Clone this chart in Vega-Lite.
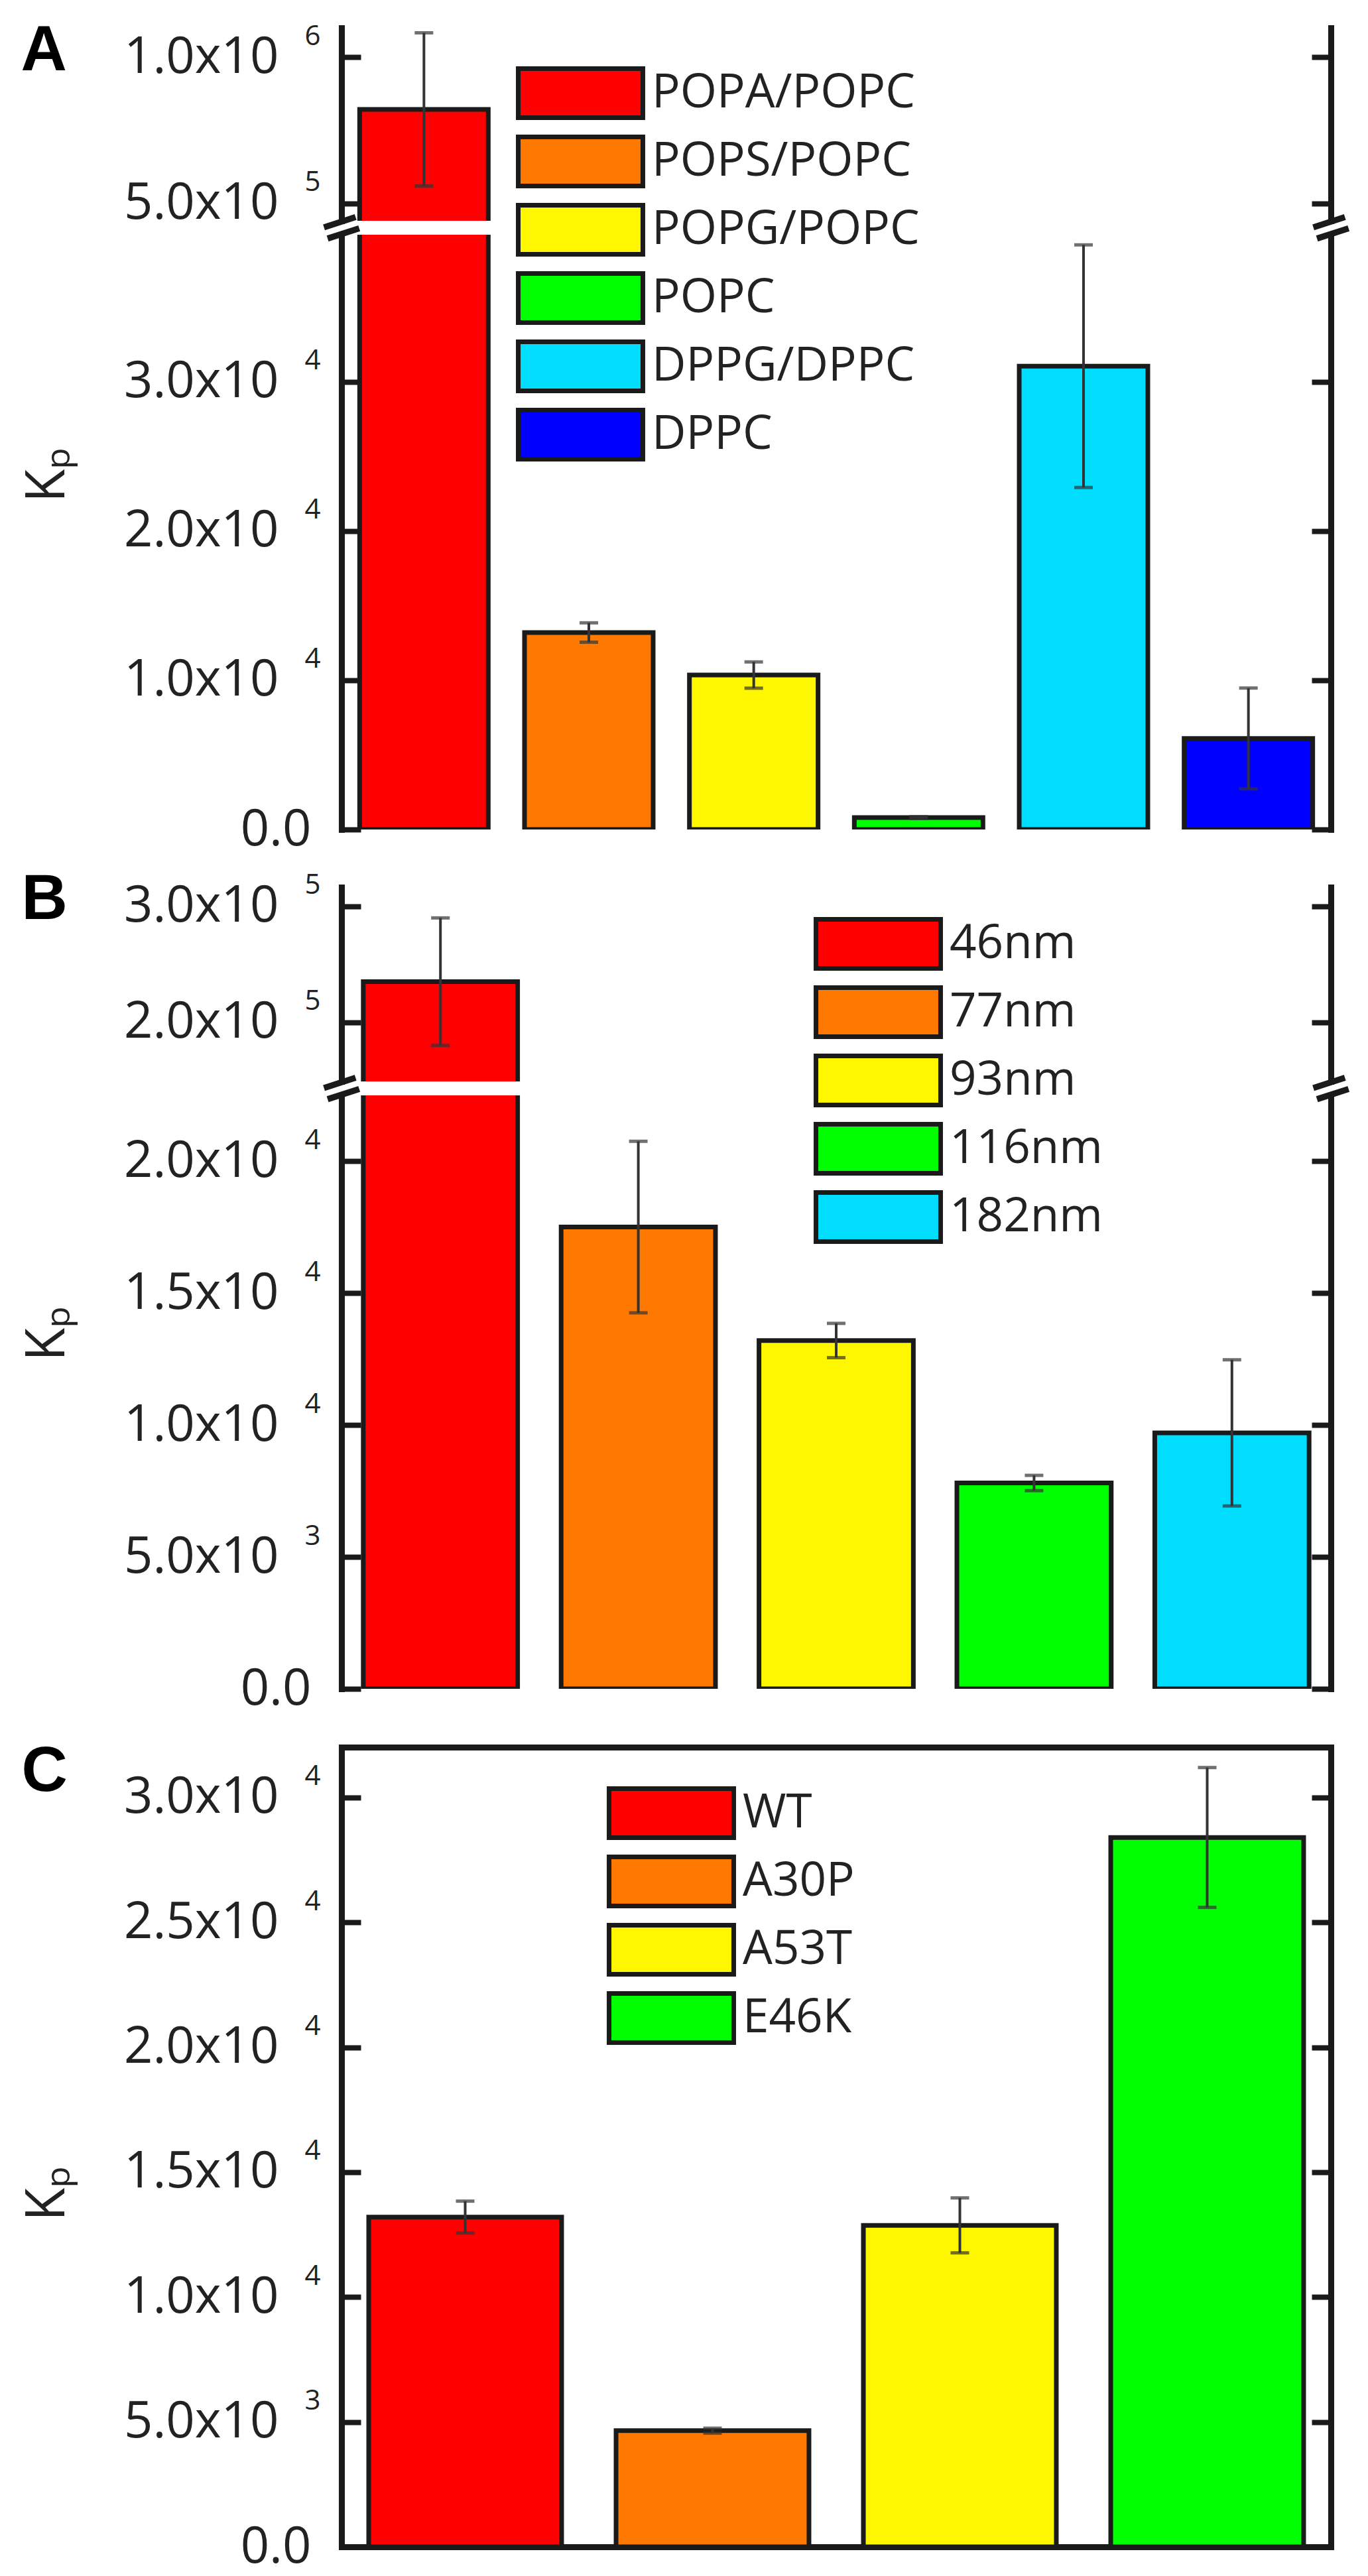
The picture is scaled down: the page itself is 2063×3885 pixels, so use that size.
{
  "$schema": "https://vega.github.io/schema/vega-lite/v6.json",
  "autosize": {"type": "none"},
  "padding": {"left": 515, "top": 42, "right": 1548, "bottom": 3843},
  "background": "white",
  "datasets": {
    "lipids": [
      {"cat": "POPA/POPC", "Kp": 821000, "err": 262000},
      {"cat": "POPS/POPC", "Kp": 13200, "err": 650},
      {"cat": "POPG/POPC", "Kp": 10350, "err": 880},
      {"cat": "POPC", "Kp": 800, "err": 60},
      {"cat": "DPPG/DPPC", "Kp": 31050, "err": 8130},
      {"cat": "DPPC", "Kp": 6100, "err": 3380}
    ],
    "sizes": [
      {"cat": "46nm", "Kp": 235000, "err": 55000},
      {"cat": "77nm", "Kp": 17500, "err": 3250},
      {"cat": "93nm", "Kp": 13200, "err": 650},
      {"cat": "116nm", "Kp": 7800, "err": 290},
      {"cat": "182nm", "Kp": 9700, "err": 2770}
    ],
    "mutants": [
      {"cat": "WT", "Kp": 13200, "err": 640},
      {"cat": "A30P", "Kp": 4650, "err": 100},
      {"cat": "A53T", "Kp": 12870, "err": 1100},
      {"cat": "E46K", "Kp": 28400, "err": 2800}
    ]
  },
  "vconcat": [
    {
      "data": {"name": "lipids"},
      "width": 1492,
      "height": 291,
      "resolve": {"axis": {"y": "independent"}},
      "layer": [
        {
          "mark": {"type": "bar", "stroke": "#1a1a1a", "strokeWidth": 7, "clip": true},
          "encoding": {
            "x": {"field": "cat", "type": "nominal", "sort": null,
                  "scale": {"domain": ["POPA/POPC", "POPS/POPC", "POPG/POPC", "POPC", "DPPG/DPPC", "DPPC"], "paddingInner": 0.22, "paddingOuter": 0.11},
                  "axis": {"orient": "top", "domain": true, "ticks": false, "labels": false, "title": null}},
            "y": {"field": "Kp", "type": "quantitative",
                  "scale": {"domain": [440000, 1100000], "nice": false},
                  "axis": {"orient": "left", "values": [500000, 1000000], "labelExpr": "datum.value == 0 ? '0.0' : format(datum.value / pow(10, floor(log(datum.value) / LN10 + 1e-9)), '.1f') + 'x10'", "labelFontSize": 76,
                           "labelPadding": {"condition": {"test": "datum.value == 0", "value": 75}, "value": 124}, "title": null}},
            "y2": {"datum": 0},
            "color": {"field": "cat", "type": "nominal",
                      "scale": {"domain": ["POPA/POPC", "POPS/POPC", "POPG/POPC", "POPC", "DPPG/DPPC", "DPPC"], "range": ["#FF0000", "#FF7800", "#FFF700", "#00FF00", "#00DDFF", "#0000FF"]},
                      "legend": {"orient": "none", "legendX": 263, "legendY": 58}}
          }
        },
        {
          "transform": [{"filter": "datum.Kp > 100000"}],
          "mark": {"type": "errorbar", "color": "#333333", "ticks": {"size": 28, "thickness": 5, "color": "#333333"}, "rule": {"strokeWidth": 4, "color": "#333333"}},
          "encoding": {
            "x": {"field": "cat", "type": "nominal", "sort": null, "axis": null},
            "y": {"field": "Kp", "type": "quantitative", "scale": {"domain": [440000, 1100000], "nice": false}, "axis": null},
            "yError": {"field": "err"}
          }
        },
        {
          "mark": {"type": "point", "opacity": 0},
          "encoding": {
            "y": {"field": "Kp", "type": "quantitative", "scale": {"domain": [440000, 1100000], "nice": false},
                  "axis": {"orient": "left", "values": [500000, 1000000], "labelExpr": "datum.value == 0 ? '' : '' + floor(log(datum.value) / LN10 + 1e-9)", "labelFontSize": 42, "labelPadding": 32, "labelOffset": -32, "ticks": false, "tickSize": 0, "domain": false,
                           "title": "A", "titleX": -484, "titleY": 63, "titleAngle": 0, "titleAlign": "left", "titleBaseline": "alphabetic", "titleFont": "Liberation Sans", "titleFontWeight": "bold", "titleFontSize": 96, "titleColor": "#000000"}}
          }
        },
        {
          "mark": {"type": "point", "opacity": 0},
          "encoding": {
            "y": {"field": "Kp", "type": "quantitative", "scale": {"domain": [440000, 1100000], "nice": false},
                  "axis": {"orient": "right", "values": [500000, 1000000], "labels": false, "title": null}}
          }
        }
      ]
    },
    {
      "data": {"name": "lipids"},
      "width": 1492,
      "height": 897,
      "resolve": {"axis": {"y": "independent"}},
      "layer": [
        {
          "mark": {"type": "bar", "stroke": "#1a1a1a", "strokeWidth": 7, "clip": true},
          "encoding": {
            "x": {"field": "cat", "type": "nominal", "sort": null,
                  "scale": {"domain": ["POPA/POPC", "POPS/POPC", "POPG/POPC", "POPC", "DPPG/DPPC", "DPPC"], "paddingInner": 0.22, "paddingOuter": 0.11},
                  "axis": {"orient": "bottom", "domain": true, "ticks": false, "labels": false, "title": null}},
            "y": {"field": "Kp", "type": "quantitative",
                  "scale": {"domain": [0, 39860], "nice": false},
                  "axis": {"orient": "left", "values": [0, 10000, 20000, 30000], "labelExpr": "datum.value == 0 ? '0.0' : format(datum.value / pow(10, floor(log(datum.value) / LN10 + 1e-9)), '.1f') + 'x10'", "labelFontSize": 76,
                           "labelPadding": {"condition": {"test": "datum.value == 0", "value": 75}, "value": 124},
                           "title": "K\u209a", "titleX": -419, "titleY": 362, "titleAlign": "center", "titleBaseline": "alphabetic", "titleFontSize": 82}},
            "y2": {"datum": 0},
            "color": {"field": "cat", "type": "nominal",
                      "scale": {"domain": ["POPA/POPC", "POPS/POPC", "POPG/POPC", "POPC", "DPPG/DPPC", "DPPC"], "range": ["#FF0000", "#FF7800", "#FFF700", "#00FF00", "#00DDFF", "#0000FF"]},
                      "legend": null}
          }
        },
        {
          "transform": [{"filter": "datum.Kp < 100000"}],
          "mark": {"type": "errorbar", "color": "#333333", "ticks": {"size": 28, "thickness": 5, "color": "#333333"}, "rule": {"strokeWidth": 4, "color": "#333333"}},
          "encoding": {
            "x": {"field": "cat", "type": "nominal", "sort": null, "axis": null},
            "y": {"field": "Kp", "type": "quantitative", "scale": {"domain": [0, 39860], "nice": false}, "axis": null},
            "yError": {"field": "err"}
          }
        },
        {
          "mark": {"type": "point", "opacity": 0},
          "encoding": {
            "y": {"field": "Kp", "type": "quantitative", "scale": {"domain": [0, 39860], "nice": false},
                  "axis": {"orient": "left", "values": [0, 10000, 20000, 30000], "labelExpr": "datum.value == 0 ? '' : '' + floor(log(datum.value) / LN10 + 1e-9)", "labelFontSize": 42, "labelPadding": 32, "labelOffset": -32, "ticks": false, "tickSize": 0, "domain": false, "title": null}}
          }
        },
        {
          "mark": {"type": "point", "opacity": 0},
          "encoding": {
            "y": {"field": "Kp", "type": "quantitative", "scale": {"domain": [0, 39860], "nice": false},
                  "axis": {"orient": "right", "values": [0, 10000, 20000, 30000], "labels": false, "title": null}}
          }
        },
        {
          "mark": {"type": "point", "opacity": 0},
          "encoding": {
            "y": {"field": "Kp", "type": "quantitative", "scale": {"domain": [0, 39860], "nice": false},
                  "axis": {"orient": "left", "values": [39860], "labelExpr": "'='", "ticks": false, "tickSize": 0, "domain": false, "labelAngle": -18, "labelAlign": "center", "labelBaseline": "middle", "labelPadding": 0, "labelOffset": -10, "labelFont": "DejaVu Sans", "labelFontWeight": "bold", "labelFontSize": 80, "labelColor": "#1a1a1a", "title": null}}
          }
        },
        {
          "mark": {"type": "point", "opacity": 0},
          "encoding": {
            "y": {"field": "Kp", "type": "quantitative", "scale": {"domain": [0, 39860], "nice": false},
                  "axis": {"orient": "right", "values": [39860], "labelExpr": "'='", "ticks": false, "tickSize": 0, "domain": false, "labelAngle": -18, "labelAlign": "center", "labelBaseline": "middle", "labelPadding": 0, "labelOffset": -10, "labelFont": "DejaVu Sans", "labelFontWeight": "bold", "labelFontSize": 80, "labelColor": "#1a1a1a", "title": null}}
          }
        }
      ]
    },
    {
      "data": {"name": "sizes"},
      "width": 1492,
      "height": 359,
      "resolve": {"axis": {"y": "independent"}},
      "layer": [
        {
          "mark": {"type": "bar", "stroke": "#1a1a1a", "strokeWidth": 7, "clip": true},
          "encoding": {
            "x": {"field": "cat", "type": "nominal", "sort": null,
                  "scale": {"domain": ["46nm", "77nm", "93nm", "116nm", "182nm"], "paddingInner": 0.22, "paddingOuter": 0.11},
                  "axis": {"orient": "top", "offset": -66, "domain": true, "ticks": false, "labels": false, "title": null}},
            "y": {"field": "Kp", "type": "quantitative",
                  "scale": {"domain": [149000, 316500], "range": [359, 66], "nice": false},
                  "axis": {"orient": "left", "values": [200000, 300000], "labelExpr": "datum.value == 0 ? '0.0' : format(datum.value / pow(10, floor(log(datum.value) / LN10 + 1e-9)), '.1f') + 'x10'", "labelFontSize": 76,
                           "labelPadding": {"condition": {"test": "datum.value == 0", "value": 75}, "value": 124}, "title": null}},
            "y2": {"datum": 0},
            "color": {"field": "cat", "type": "nominal",
                      "scale": {"domain": ["46nm", "77nm", "93nm", "116nm", "182nm"], "range": ["#FF0000", "#FF7800", "#FFF700", "#00FF00", "#00DDFF"]},
                      "legend": {"orient": "none", "legendX": 712, "legendY": 111}}
          }
        },
        {
          "transform": [{"filter": "datum.Kp > 100000"}],
          "mark": {"type": "errorbar", "color": "#333333", "ticks": {"size": 28, "thickness": 5, "color": "#333333"}, "rule": {"strokeWidth": 4, "color": "#333333"}},
          "encoding": {
            "x": {"field": "cat", "type": "nominal", "sort": null, "axis": null},
            "y": {"field": "Kp", "type": "quantitative", "scale": {"domain": [149000, 316500], "range": [359, 66], "nice": false}, "axis": null},
            "yError": {"field": "err"}
          }
        },
        {
          "mark": {"type": "point", "opacity": 0},
          "encoding": {
            "y": {"field": "Kp", "type": "quantitative", "scale": {"domain": [149000, 316500], "range": [359, 66], "nice": false},
                  "axis": {"orient": "left", "values": [200000, 300000], "labelExpr": "datum.value == 0 ? '' : '' + floor(log(datum.value) / LN10 + 1e-9)", "labelFontSize": 42, "labelPadding": 32, "labelOffset": -32, "ticks": false, "tickSize": 0, "domain": false,
                           "title": "B", "titleX": -483, "titleY": 113, "titleAngle": 0, "titleAlign": "left", "titleBaseline": "alphabetic", "titleFont": "Liberation Sans", "titleFontWeight": "bold", "titleFontSize": 96, "titleColor": "#000000"}}
          }
        },
        {
          "mark": {"type": "point", "opacity": 0},
          "encoding": {
            "y": {"field": "Kp", "type": "quantitative", "scale": {"domain": [149000, 316500], "range": [359, 66], "nice": false},
                  "axis": {"orient": "right", "values": [200000, 300000], "labels": false, "title": null}}
          }
        }
      ]
    },
    {
      "data": {"name": "sizes"},
      "width": 1492,
      "height": 895,
      "resolve": {"axis": {"y": "independent"}},
      "layer": [
        {
          "mark": {"type": "bar", "stroke": "#1a1a1a", "strokeWidth": 7, "clip": true},
          "encoding": {
            "x": {"field": "cat", "type": "nominal", "sort": null,
                  "scale": {"domain": ["46nm", "77nm", "93nm", "116nm", "182nm"], "paddingInner": 0.22, "paddingOuter": 0.11},
                  "axis": {"orient": "bottom", "domain": true, "ticks": false, "labels": false, "title": null}},
            "y": {"field": "Kp", "type": "quantitative",
                  "scale": {"domain": [0, 22490], "nice": false},
                  "axis": {"orient": "left", "values": [0, 5000, 10000, 15000, 20000], "labelExpr": "datum.value == 0 ? '0.0' : format(datum.value / pow(10, floor(log(datum.value) / LN10 + 1e-9)), '.1f') + 'x10'", "labelFontSize": 76,
                           "labelPadding": {"condition": {"test": "datum.value == 0", "value": 75}, "value": 124},
                           "title": "K\u209a", "titleX": -419, "titleY": 359, "titleAlign": "center", "titleBaseline": "alphabetic", "titleFontSize": 82}},
            "y2": {"datum": 0},
            "color": {"field": "cat", "type": "nominal",
                      "scale": {"domain": ["46nm", "77nm", "93nm", "116nm", "182nm"], "range": ["#FF0000", "#FF7800", "#FFF700", "#00FF00", "#00DDFF"]},
                      "legend": null}
          }
        },
        {
          "transform": [{"filter": "datum.Kp < 100000"}],
          "mark": {"type": "errorbar", "color": "#333333", "ticks": {"size": 28, "thickness": 5, "color": "#333333"}, "rule": {"strokeWidth": 4, "color": "#333333"}},
          "encoding": {
            "x": {"field": "cat", "type": "nominal", "sort": null, "axis": null},
            "y": {"field": "Kp", "type": "quantitative", "scale": {"domain": [0, 22490], "nice": false}, "axis": null},
            "yError": {"field": "err"}
          }
        },
        {
          "mark": {"type": "point", "opacity": 0},
          "encoding": {
            "y": {"field": "Kp", "type": "quantitative", "scale": {"domain": [0, 22490], "nice": false},
                  "axis": {"orient": "left", "values": [0, 5000, 10000, 15000, 20000], "labelExpr": "datum.value == 0 ? '' : '' + floor(log(datum.value) / LN10 + 1e-9)", "labelFontSize": 42, "labelPadding": 32, "labelOffset": -32, "ticks": false, "tickSize": 0, "domain": false, "title": null}}
          }
        },
        {
          "mark": {"type": "point", "opacity": 0},
          "encoding": {
            "y": {"field": "Kp", "type": "quantitative", "scale": {"domain": [0, 22490], "nice": false},
                  "axis": {"orient": "right", "values": [0, 5000, 10000, 15000, 20000], "labels": false, "title": null}}
          }
        },
        {
          "mark": {"type": "point", "opacity": 0},
          "encoding": {
            "y": {"field": "Kp", "type": "quantitative", "scale": {"domain": [0, 22490], "nice": false},
                  "axis": {"orient": "left", "values": [22490], "labelExpr": "'='", "ticks": false, "tickSize": 0, "domain": false, "labelAngle": -18, "labelAlign": "center", "labelBaseline": "middle", "labelPadding": 0, "labelOffset": -10, "labelFont": "DejaVu Sans", "labelFontWeight": "bold", "labelFontSize": 80, "labelColor": "#1a1a1a", "title": null}}
          }
        },
        {
          "mark": {"type": "point", "opacity": 0},
          "encoding": {
            "y": {"field": "Kp", "type": "quantitative", "scale": {"domain": [0, 22490], "nice": false},
                  "axis": {"orient": "right", "values": [22490], "labelExpr": "'='", "ticks": false, "tickSize": 0, "domain": false, "labelAngle": -18, "labelAlign": "center", "labelBaseline": "middle", "labelPadding": 0, "labelOffset": -10, "labelFont": "DejaVu Sans", "labelFontWeight": "bold", "labelFontSize": 80, "labelColor": "#1a1a1a", "title": null}}
          }
        }
      ]
    },
    {
      "data": {"name": "mutants"},
      "width": 1492,
      "height": 1273,
      "resolve": {"axis": {"y": "independent", "x": "independent"}},
      "layer": [
        {
          "mark": {"type": "bar", "stroke": "#1a1a1a", "strokeWidth": 7, "clip": true},
          "encoding": {
            "x": {"field": "cat", "type": "nominal", "sort": null,
                  "scale": {"domain": ["WT", "A30P", "A53T", "E46K"], "paddingInner": 0.22, "paddingOuter": 0.11},
                  "axis": {"orient": "bottom", "domain": true, "ticks": false, "labels": false, "title": null}},
            "y": {"field": "Kp", "type": "quantitative",
                  "scale": {"domain": [0, 32015], "range": [1273, 67], "nice": false},
                  "axis": {"orient": "left", "values": [0, 5000, 10000, 15000, 20000, 25000, 30000], "labelExpr": "datum.value == 0 ? '0.0' : format(datum.value / pow(10, floor(log(datum.value) / LN10 + 1e-9)), '.1f') + 'x10'", "labelFontSize": 76,
                           "labelPadding": {"condition": {"test": "datum.value == 0", "value": 75}, "value": 124},
                           "title": "K\u209a", "titleX": -419, "titleY": 740, "titleAlign": "center", "titleBaseline": "alphabetic", "titleFontSize": 82}},
            "y2": {"datum": 0},
            "color": {"field": "cat", "type": "nominal",
                      "scale": {"domain": ["WT", "A30P", "A53T", "E46K"], "range": ["#FF0000", "#FF7800", "#FFF700", "#00FF00"]},
                      "legend": {"orient": "none", "legendX": 400, "legendY": 126}}
          }
        },
        {
          "mark": {"type": "errorbar", "color": "#333333", "ticks": {"size": 28, "thickness": 5, "color": "#333333"}, "rule": {"strokeWidth": 4, "color": "#333333"}},
          "encoding": {
            "x": {"field": "cat", "type": "nominal", "sort": null, "axis": null},
            "y": {"field": "Kp", "type": "quantitative", "scale": {"domain": [0, 32015], "range": [1273, 67], "nice": false}, "axis": null},
            "yError": {"field": "err"}
          }
        },
        {
          "mark": {"type": "point", "opacity": 0},
          "encoding": {
            "x": {"field": "cat", "type": "nominal", "sort": null,
                  "axis": {"orient": "top", "offset": -67, "domain": true, "ticks": false, "labels": false, "title": null}},
            "y": {"field": "Kp", "type": "quantitative", "scale": {"domain": [0, 32015], "range": [1273, 67], "nice": false},
                  "axis": {"orient": "left", "values": [0, 5000, 10000, 15000, 20000, 25000, 30000], "labelExpr": "datum.value == 0 ? '' : '' + floor(log(datum.value) / LN10 + 1e-9)", "labelFontSize": 42, "labelPadding": 32, "labelOffset": -32, "ticks": false, "tickSize": 0, "domain": false,
                           "title": "C", "titleX": -483, "titleY": 132, "titleAngle": 0, "titleAlign": "left", "titleBaseline": "alphabetic", "titleFont": "Liberation Sans", "titleFontWeight": "bold", "titleFontSize": 96, "titleColor": "#000000"}}
          }
        },
        {
          "mark": {"type": "point", "opacity": 0},
          "encoding": {
            "y": {"field": "Kp", "type": "quantitative", "scale": {"domain": [0, 32015], "range": [1273, 67], "nice": false},
                  "axis": {"orient": "right", "values": [0, 5000, 10000, 15000, 20000, 25000, 30000], "labels": false, "title": null}}
          }
        }
      ]
    }
  ],
  "spacing": 21,
  "bounds": "flush",
  "resolve": {"scale": {"color": "independent"}},
  "config": {
    "view": {"stroke": null},
    "axis": {
      "grid": false,
      "domainColor": "#1a1a1a",
      "domainWidth": 9,
      "domainCap": "square",
      "tickColor": "#1a1a1a",
      "tickWidth": 8,
      "tickSize": -29,
      "labelFont": "Open Sans, DejaVu Sans",
      "labelColor": "#222222",
      "labelOverlap": false,
      "labelLimit": 0,
      "titleFont": "Open Sans, DejaVu Sans",
      "titleColor": "#222222",
      "titleFontWeight": "normal"
    },
    "legend": {
      "title": null,
      "padding": 0,
      "symbolType": "M-2.54,-1H2.54V1H-2.54Z",
      "symbolSize": 5476,
      "symbolStrokeColor": "#1a1a1a",
      "symbolStrokeWidth": 7,
      "symbolOpacity": 1,
      "symbolOffset": 57,
      "labelOffset": 67,
      "labelFont": "Open Sans, DejaVu Sans",
      "labelFontSize": 71,
      "labelColor": "#222222",
      "labelLimit": 0,
      "rowPadding": 0
    }
  }
}
